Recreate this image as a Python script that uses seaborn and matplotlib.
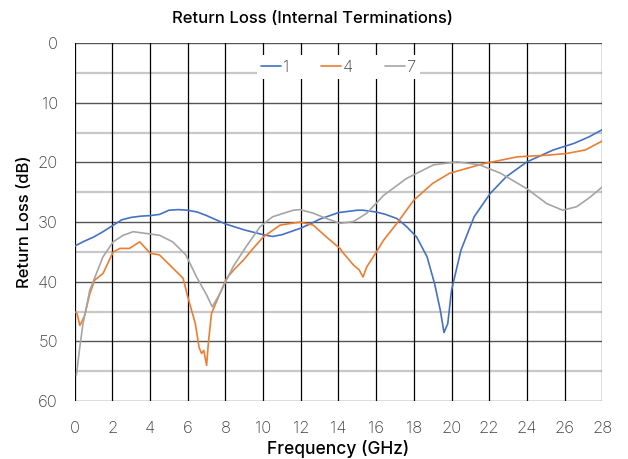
import matplotlib
matplotlib.use("Agg")
import matplotlib.pyplot as plt
import pandas as pd
import seaborn as sns

# Series "1"
freq_1 = [0, 0.5, 1, 1.5, 2, 2.5, 3, 3.5, 4, 4.5, 5, 5.5, 6, 6.5, 7, 7.5, 8, 9, 10, 10.5,
          11, 12, 12.5, 13, 14, 15, 15.3, 16, 16.5, 17.1, 17.6, 18.15, 18.7, 19.1, 19.4,
          19.6, 19.8, 20.0, 20.5, 21.2, 22.05, 22.9, 24, 25.4, 26.5, 27.3, 28]
rl_1 = [34.0, 33.2, 32.5, 31.6, 30.6, 29.6, 29.2, 29.0, 28.9, 28.7, 28.0, 27.9, 28.0, 28.3,
        28.9, 29.6, 30.3, 31.3, 32.1, 32.4, 32.1, 31.0, 30.3, 29.5, 28.4, 28.0, 28.0, 28.3,
        28.7, 29.4, 30.7, 32.5, 35.8, 40.3, 44.7, 48.5, 47.0, 41.4, 34.7, 29.1, 25.2, 22.4,
        19.9, 17.9, 16.8, 15.7, 14.5]

# Series "4"
freq_4 = [0.0, 0.12, 0.27, 0.4, 0.53, 0.8, 1.06, 1.5, 2.04, 2.4, 2.9, 3.45, 4.0, 4.5, 5.05,
          5.75, 6.0, 6.4, 6.6, 6.73, 6.85, 7.0, 7.1, 7.26, 7.7, 8.06, 8.5, 8.94, 9.5, 10.0,
          10.9, 11.5, 11.96, 12.66, 13.4, 14.08, 14.26, 14.8, 15.1, 15.3, 15.5, 15.85, 16.4,
          17.1, 18.0, 19.0, 19.9, 20.8, 21.7, 23.5, 25.0, 26.1, 27.1, 28.0]
rl_4 = [45.0, 45.3, 47.3, 46.5, 45.6, 42.0, 39.7, 38.6, 35.0, 34.4, 34.4, 33.3, 35.2, 35.5,
        37.2, 39.4, 42.5, 47.0, 51.0, 52.0, 51.5, 54.0, 50.0, 45.3, 42.0, 39.4, 37.8, 36.4,
        34.3, 32.5, 30.5, 30.2, 30.0, 30.5, 32.6, 34.4, 35.2, 37.2, 38.0, 39.2, 37.5, 35.8,
        33.0, 30.2, 26.3, 23.5, 21.8, 21.0, 20.2, 19.05, 18.8, 18.5, 17.9, 16.4]

# Series "7"
freq_7 = [0.09, 0.27, 0.44, 0.8, 1.15, 1.5, 2.04, 2.57, 3.1, 3.8, 4.5, 5.2, 5.9, 6.47, 7.0,
          7.3, 7.7, 8.4, 9.1, 9.83, 10.5, 11.6, 11.96, 12.66, 13.37, 14.08, 14.8, 15.5, 16.4,
          17.6, 19.04, 20.3, 21.5, 22.6, 24.0, 25.06, 25.9, 26.65, 27.36, 28.0]
rl_7 = [55.6, 50.9, 47.0, 41.4, 38.6, 35.8, 33.3, 32.2, 31.6, 31.9, 32.2, 33.3, 35.5, 39.2,
        42.2, 44.2, 42.0, 37.5, 34.1, 30.8, 29.1, 28.0, 27.9, 28.5, 29.4, 30.2, 29.9, 28.5,
        25.5, 22.7, 20.4, 19.9, 20.4, 21.8, 24.4, 26.9, 28.0, 27.4, 25.8, 24.1]

series_names = ["1", "4", "7"]
series_colors = ["#4472C4", "#ED7D31", "#A5A5A5"]
x_ticks = list(range(0, 29, 2))
y_ticks = list(range(0, 61, 10))

frames = []
for name, fx, fy in zip(series_names, [freq_1, freq_4, freq_7], [rl_1, rl_4, rl_7]):
    frames.append(pd.DataFrame({"freq": fx, "rl": fy, "series": name}))
df = pd.concat(frames, ignore_index=True)

sns.set_style("white")
plt.rcParams["font.family"] = ["Inter", "DejaVu Sans"]

fig = plt.figure(figsize=(6.28, 4.59), dpi=100)
ax = fig.add_axes([0.119, 0.126, 0.84, 0.78])

# grid first so the curves sit on top
for yv in range(5, 60, 10):
    ax.axhline(yv, color="#c8c8c8", lw=1.6, zorder=1)
for yv in y_ticks:
    ax.axhline(yv, color="#555555", lw=1.0, zorder=1)
for xv in x_ticks:
    ax.axvline(xv, color="#000000", lw=0.9, zorder=1)

sns.lineplot(data=df, x="freq", y="rl", hue="series", palette=series_colors,
             estimator=None, sort=True, linewidth=1.2, ax=ax, zorder=3)

ax.set_xlim(0, 28)
ax.set_ylim(60, 0)
ax.set_xticks(x_ticks)
ax.set_yticks(y_ticks)
ax.tick_params(axis="both", direction="out", length=5, width=1, color="#999999",
               labelcolor="#404040", labelsize=12)
ax.tick_params(axis="x", pad=9)
ax.tick_params(axis="y", pad=7)
for lbl in ax.get_xticklabels() + ax.get_yticklabels():
    lbl.set_fontweight("light")
for s in ax.spines.values():
    s.set_visible(False)

# title is centred on the figure, not on the axes
fig.text(0.497, 0.96, "Return Loss (Internal Terminations)", fontsize=12,
         fontweight="medium", color="#000000", ha="center", va="center")
ax.set_xlabel("Frequency (GHz)", fontsize=12.5, fontweight="medium", color="#000000", labelpad=3)
ax.set_ylabel("Return Loss (dB)", fontsize=12, fontweight="medium", color="#000000", labelpad=4)

leg = ax.legend(loc="upper center", bbox_to_anchor=(0.5, 0.975), ncol=3, frameon=True,
                fontsize=12, handlelength=1.2, handletextpad=0.1, columnspacing=1.9,
                borderpad=0.25, borderaxespad=0.2, framealpha=1.0)
leg.get_frame().set_edgecolor("white")
leg.get_frame().set_linewidth(0)
for t in leg.get_texts():
    t.set_color("#404040")
    t.set_fontweight("light")

fig.savefig("out.png", dpi=100)
